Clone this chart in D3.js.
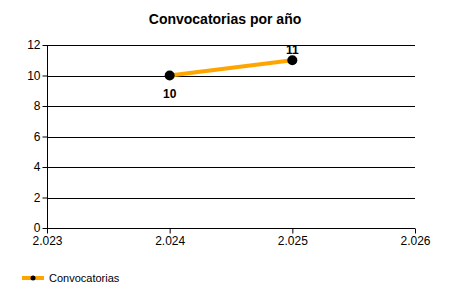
<!DOCTYPE html>
<html><head><meta charset="utf-8">
<script src="https://cdn.jsdelivr.net/npm/d3@7"></script>
<style>body{margin:0;background:#fff}svg{display:block}text{font-family:"Liberation Sans",Arial,sans-serif}</style>
</head><body><svg id="c" width="450" height="300"></svg>
<script>
const years = [2024, 2025];
const values = [10, 11];
const yTicks = [0, 2, 4, 6, 8, 10, 12];
const xTicks = [2023, 2024, 2025, 2026];
const xTickLabels = ["2.023", "2.024", "2.025", "2.026"];
const seriesName = "Convocatorias";
const title = "Convocatorias por año";

const svg = d3.select("#c");
const L = 47, R = 415, T = 45, B = 228;
const x = d3.scaleLinear().domain([2023, 2026]).range([L, R]);
const y = d3.scaleLinear().domain([0, 12]).range([B, T]);

svg.append("text").attr("x", 225).attr("y", 24).attr("text-anchor", "middle")
  .attr("font-size", 14).attr("font-weight", "bold").text(title);

// gridlines
svg.append("g").selectAll("line").data(yTicks.filter(d => d > 0)).join("line")
  .attr("x1", L).attr("x2", R).attr("y1", d => Math.round(y(d)) + 0.5).attr("y2", d => Math.round(y(d)) + 0.5)
  .attr("stroke", "#000").attr("stroke-width", 1);

// y axis
const ya = svg.append("g").attr("transform", `translate(${L + 0.5},0)`)
  .call(d3.axisLeft(y).tickValues(yTicks).tickSize(5).tickPadding(2).tickFormat(d3.format("d")));
ya.select(".domain").attr("d", `M0,${T}V${B}`).attr("stroke", "#000");
ya.selectAll(".tick line").attr("stroke", "#000");
ya.selectAll(".tick text").attr("font-size", 12).attr("fill", "#000").attr("font-family", "Liberation Sans, Arial, sans-serif");

// x axis
const xa = svg.append("g").attr("transform", `translate(0,${B + 0.5})`)
  .call(d3.axisBottom(x).tickValues(xTicks).tickSize(5).tickPadding(3).tickFormat((d, i) => xTickLabels[i]));
xa.select(".domain").attr("d", `M${L},0H${R}`).attr("stroke", "#000");
xa.selectAll(".tick line").attr("stroke", "#000");
xa.selectAll(".tick text").attr("font-size", 12).attr("fill", "#000").attr("font-family", "Liberation Sans, Arial, sans-serif");

// clip
svg.append("clipPath").attr("id", "clip").append("rect").attr("x", L).attr("y", T).attr("width", R - L).attr("height", B - T);
const plot = svg.append("g").attr("clip-path", "url(#clip)");
const pts = years.map((d, i) => [d, values[i]]);
plot.append("path").datum(pts)
  .attr("d", d3.line().x(d => x(d[0])).y(d => y(d[1])))
  .attr("fill", "none").attr("stroke", "#FFA500").attr("stroke-width", 4);
plot.selectAll("circle").data(pts).join("circle")
  .attr("cx", d => x(d[0])).attr("cy", d => y(d[1])).attr("r", 5).attr("fill", "#000");
plot.selectAll("text.lbl").data(pts).join("text").attr("class", "lbl")
  .attr("x", d => x(d[0])).attr("y", (d, i) => i === 0 ? y(d[1]) + 22 : y(d[1]) - 6)
  .attr("text-anchor", "middle").attr("font-size", 12).attr("font-weight", "bold").text(d => d[1]);

// legend
const lg = svg.append("g");
lg.append("line").attr("x1", 22).attr("x2", 44).attr("y1", 278).attr("y2", 278).attr("stroke", "#FFA500").attr("stroke-width", 4);
lg.append("circle").attr("cx", 33).attr("cy", 278).attr("r", 2.5).attr("fill", "#000");
lg.append("text").attr("x", 49).attr("y", 282).attr("font-size", 11).text(seriesName);
</script></body></html>
